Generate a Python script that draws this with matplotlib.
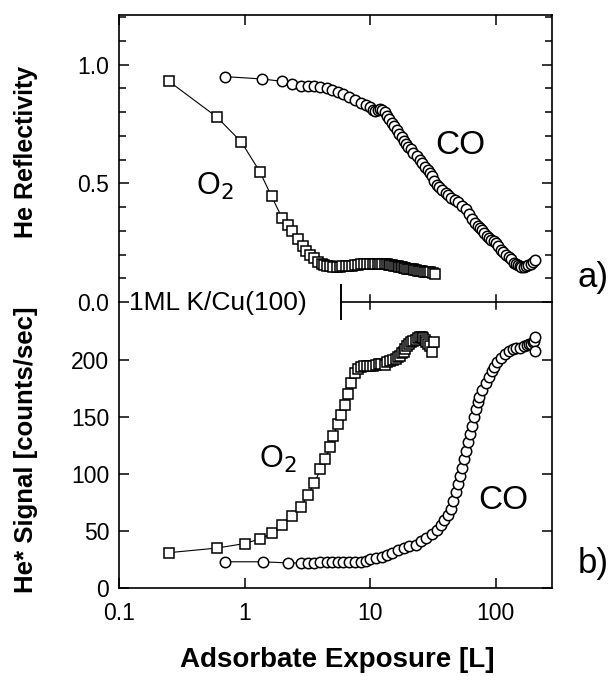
import matplotlib
matplotlib.use('Agg')
import matplotlib.pyplot as plt
import numpy as np
from matplotlib.ticker import MultipleLocator, NullLocator, FixedLocator, FixedFormatter

plt.rcParams['font.family'] = ['Liberation Sans', 'DejaVu Sans']

# a) He reflectivity vs exposure
o2_refl_x = [0.25, 0.6, 0.94, 1.32, 1.64, 1.99, 2.2, 2.4, 2.65, 2.9, 3.1, 3.3, 3.55, 3.85, 4.1,
             4.3, 4.55, 4.8, 5.1, 5.4, 5.7, 6.0, 6.4, 6.8, 7.2, 7.6, 8.0, 8.5, 9.0, 9.5, 10.0,
             10.5, 11.0, 11.5, 12.0, 12.5, 13.0, 13.5, 14.0, 14.5, 15.0, 15.5, 16.0, 16.5, 17.0,
             17.5, 18.0, 18.5, 19.0, 19.5, 20.2, 21, 21.8, 22.5, 23.2, 24, 25, 26, 27, 28, 29,
             30, 31.5, 33]
o2_refl_y = [0.93, 0.78, 0.675, 0.55, 0.445, 0.354, 0.325, 0.30, 0.265, 0.235, 0.215, 0.20,
             0.185, 0.17, 0.16, 0.155, 0.152, 0.15, 0.149, 0.148, 0.149, 0.15, 0.151, 0.152,
             0.153, 0.155, 0.156, 0.158, 0.159, 0.16, 0.161, 0.162, 0.161, 0.16, 0.159, 0.158,
             0.16, 0.159, 0.157, 0.155, 0.154, 0.152, 0.151, 0.15, 0.149, 0.148, 0.146, 0.145,
             0.143, 0.14, 0.139, 0.138, 0.137, 0.135, 0.133, 0.13, 0.13, 0.129, 0.128, 0.128,
             0.127, 0.125, 0.123, 0.12]
co_refl_x = [0.70, 1.38, 2.0, 2.4, 2.8, 3.2, 3.6, 4.0, 4.5, 5.0, 5.5, 6.1, 6.8, 7.6, 8.5, 9.2,
             10, 10.5, 11, 11.5, 12, 12.5, 13, 13.5, 14, 14.8, 15.5, 16.2, 17, 17.8, 18.5, 19.2,
             20, 21, 22, 23.5, 25, 26, 27.5, 29, 30, 31, 32.5, 34, 35, 37, 40, 42, 44, 47, 50,
             54, 58, 61, 65, 68, 72, 75, 78, 81, 85, 88, 92, 96, 100, 105, 110, 115, 120, 127,
             133, 140, 145, 150, 155, 160, 167, 175, 182, 190, 197, 205]
co_refl_y = [0.95, 0.94, 0.93, 0.92, 0.91, 0.91, 0.91, 0.905, 0.90, 0.893, 0.885, 0.876, 0.865,
             0.853, 0.84, 0.83, 0.82, 0.81, 0.805, 0.81, 0.815, 0.81, 0.80, 0.785, 0.77, 0.755,
             0.74, 0.725, 0.71, 0.695, 0.68, 0.668, 0.655, 0.643, 0.63, 0.615, 0.60, 0.585, 0.57,
             0.555, 0.545, 0.53, 0.51, 0.495, 0.485, 0.47, 0.46, 0.45, 0.44, 0.43, 0.42, 0.405,
             0.39, 0.37, 0.35, 0.335, 0.32, 0.31, 0.305, 0.29, 0.28, 0.27, 0.26, 0.255, 0.25,
             0.235, 0.22, 0.21, 0.20, 0.19, 0.18, 0.165, 0.16, 0.155, 0.15, 0.148, 0.147, 0.15,
             0.155, 0.16, 0.168, 0.175]

# b) He* signal vs exposure
o2_sig_x = [0.25, 0.6, 1.0, 1.32, 1.66, 2.0, 2.4, 2.8, 3.2, 3.6, 4.0, 4.4, 4.8, 5.1, 5.5, 5.9,
            6.3, 6.7, 7.0, 7.6, 8.0, 8.4, 8.9, 9.4, 10.0, 10.5, 11.1, 11.7, 12.3, 13, 13.7,
            14.5, 15.2, 16, 16.6, 17.2, 17.8, 18.5, 19.1, 19.7, 20.3, 21, 22, 23, 24, 25, 26,
            26.5, 27.2, 28, 29, 30, 31, 32]
o2_sig_y = [31, 35, 39, 43, 48, 55, 63, 71, 82, 92, 104, 113, 124, 133, 144, 152, 161, 170,
            180, 189, 192, 194, 195, 195, 195, 195, 196, 197, 197, 196, 198, 199, 200, 201,
            203, 204, 206, 207, 210, 212, 214, 216, 217, 218, 219, 220, 220, 219, 218, 216,
            214, 212, 207, 216]
co_sig_x = [0.70, 1.4, 2.2, 2.8, 3.2, 3.6, 4.0, 4.5, 5.0, 5.5, 6.1, 6.8, 7.6, 8.5, 9.2, 10,
            11.2, 12.5, 13.7, 15, 16.7, 18.5, 20.5, 23, 25.5, 28, 31, 34, 36.5, 39, 41.5, 44,
            46, 48, 50, 52, 54, 56, 58, 60, 62.5, 65, 67.5, 70, 72, 74, 78, 83, 88, 93, 97,
            102, 110, 118, 127, 136, 145, 155, 168, 178, 185, 190, 196, 200, 205, 205]
co_sig_y = [23, 23, 22, 22, 22, 22, 22.5, 23, 23, 23, 23, 23, 23, 23, 24, 25, 26, 27, 29, 31,
            33, 35, 36.5, 38, 41, 44, 47, 51, 55, 60, 64, 69, 76, 84, 91, 98, 105, 113, 120,
            128, 135, 142, 150, 157, 163, 168, 174, 180, 185, 190, 194, 198, 202, 205, 208,
            210, 211, 211, 212, 213, 214, 214, 216, 217, 220, 208]

ML_EXPOSURE = 5.85
XLIM = (0.1, 280)
XTICKS = [0.1, 1, 10, 100]
XTICKLABELS = ['0.1', '1', '10', '100']

fig = plt.figure(figsize=(6.15, 6.76), dpi=100)
ax2 = fig.add_axes([0.1935, 0.1302, 0.704, 0.4231])
ax1 = fig.add_axes([0.1935, 0.5533, 0.704, 0.4246])
ax1.patch.set_visible(False)
ax2.patch.set_visible(False)

sq = dict(color='black', lw=0.8, markerfacecolor='white', markeredgecolor='black',
          markeredgewidth=1.1, markersize=7, marker='s')
ci = dict(sq, marker='o', markersize=7.5)

ax1.plot(o2_refl_x, o2_refl_y, **sq)
ax1.plot(co_refl_x, co_refl_y, **ci)
ax2.plot(o2_sig_x, o2_sig_y, **sq)
ax2.plot(co_sig_x, co_sig_y, **ci)

for ax in (ax1, ax2):
    ax.set_xscale('log')
    ax.set_xlim(*XLIM)
    ax.xaxis.set_major_locator(FixedLocator(XTICKS))
    ax.xaxis.set_major_formatter(FixedFormatter(XTICKLABELS))
    ax.xaxis.set_minor_locator(NullLocator())
    ax.tick_params(direction='in', which='both', top=True, right=True,
                   labelsize=16.5, length=7, width=1.1, pad=7)
    ax.tick_params(which='minor', length=5)
    ax.tick_params(axis='x', pad=10)
    for s in ax.spines.values():
        s.set_linewidth(1.2)

# top panel
ax1.set_ylim(0, 1.21)
ax1.yaxis.set_major_locator(FixedLocator([0.0, 0.5, 1.0]))
ax1.yaxis.set_minor_locator(MultipleLocator(0.1))
ax1.yaxis.set_major_formatter(FixedFormatter(['0.0', '0.5', '1.0']))
ax1.tick_params(axis='x', labelbottom=False, bottom=False)
ax1.spines['bottom'].set_bounds(ML_EXPOSURE, XLIM[1])
for xv in (10, 100):
    ax1.plot([xv, xv], [-0.03, 0.03], color='black', lw=1.1, clip_on=False)
ax1.plot([ML_EXPOSURE, ML_EXPOSURE], [-0.07, 0.07], color='black', lw=1.4, clip_on=False)
ax1.text(0.121, -0.005, '1ML K/Cu(100)', fontsize=19, va='center', ha='left', clip_on=False)

ax1.text(0.58, 0.485, 'O$_2$', fontsize=22, ha='center', va='center')
ax1.text(52, 0.66, 'CO', fontsize=24, ha='center', va='center')

# bottom panel
ax2.set_ylim(0, 251)
ax2.yaxis.set_major_locator(FixedLocator([0, 50, 100, 150, 200]))
ax2.yaxis.set_minor_locator(NullLocator())
ax2.spines['top'].set_visible(False)
ax2.tick_params(axis='x', top=False)

ax2.text(1.85, 113, 'O$_2$', fontsize=22, ha='center', va='center')
ax2.text(114, 77, 'CO', fontsize=24, ha='center', va='center')

fig.text(0.965, 0.590, 'a)', fontsize=25, ha='center', va='center')
fig.text(0.965, 0.167, 'b)', fontsize=25, ha='center', va='center')

fig.text(0.042, 0.775, 'He Reflectivity', rotation=90, fontsize=18, fontweight='bold',
         ha='center', va='center')
fig.text(0.042, 0.335, 'He* Signal [counts/sec]', rotation=90, fontsize=18.5,
         fontweight='bold', ha='center', va='center')
fig.text(0.548, 0.024, 'Adsorbate Exposure [L]', fontsize=20, fontweight='bold',
         ha='center', va='center')

fig.savefig('out.png', dpi=100)
